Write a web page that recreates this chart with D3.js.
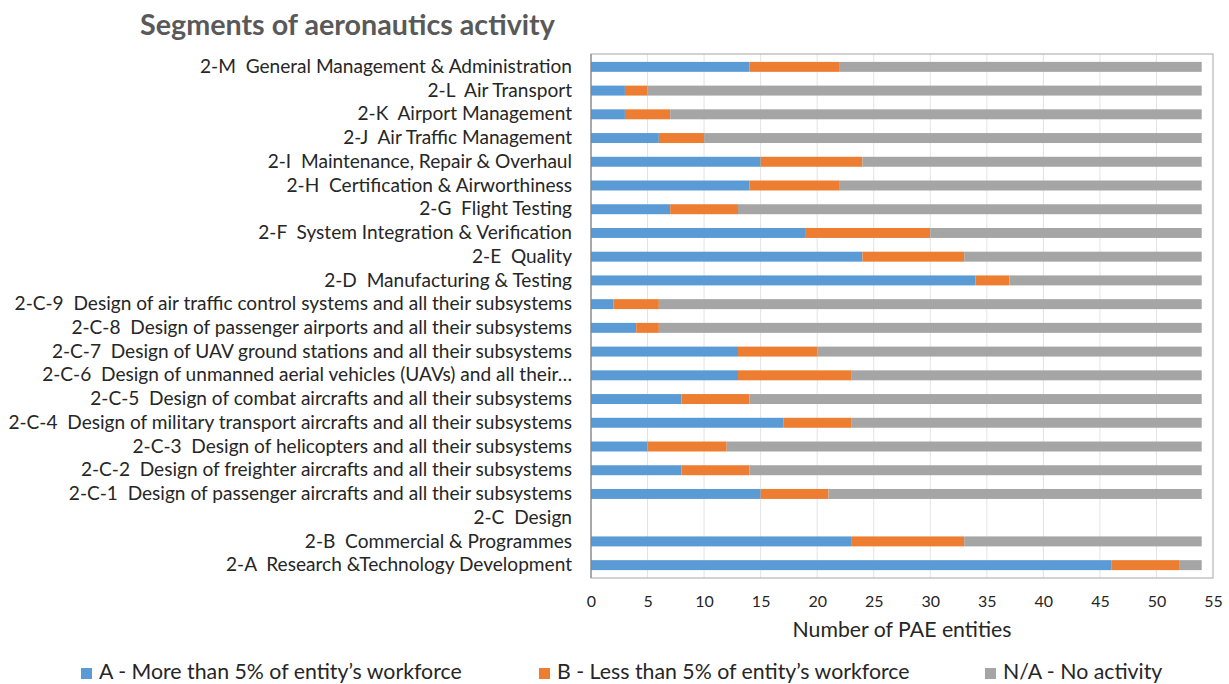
<!DOCTYPE html>
<html>
<head>
<meta charset="utf-8">
<script src="https://cdn.jsdelivr.net/npm/d3@7"></script>
<style>
  body { margin: 0; background: #fff; }
  svg text { font-family: Lato, "Open Sans", sans-serif; }
</style>
</head>
<body>
<div id="chart"></div>
<script>
// categories top to bottom
const categories = [
  "2-M  General Management & Administration",
  "2-L  Air Transport",
  "2-K  Airport Management",
  "2-J  Air Traffic Management",
  "2-I  Maintenance, Repair & Overhaul",
  "2-H  Certification & Airworthiness",
  "2-G  Flight Testing",
  "2-F  System Integration & Verification",
  "2-E  Quality",
  "2-D  Manufacturing & Testing",
  "2-C-9  Design of air traffic control systems and all their subsystems",
  "2-C-8  Design of passenger airports and all their subsystems",
  "2-C-7  Design of UAV ground stations and all their subsystems",
  "2-C-6  Design of unmanned aerial vehicles (UAVs) and all their\u2026",
  "2-C-5  Design of combat aircrafts and all their subsystems",
  "2-C-4  Design of military transport aircrafts and all their subsystems",
  "2-C-3  Design of helicopters and all their subsystems",
  "2-C-2  Design of freighter aircrafts and all their subsystems",
  "2-C-1  Design of passenger aircrafts and all their subsystems",
  "2-C  Design",
  "2-B  Commercial & Programmes",
  "2-A  Research &Technology Development"
];
const seriesA  = [14, 3, 3, 6, 15, 14, 7, 19, 24, 34, 2, 4, 13, 13, 8, 17, 5, 8, 15, 0, 23, 46];
const seriesB  = [ 8, 2, 4, 4,  9,  8, 6, 11,  9,  3, 4, 2,  7, 10, 6,  6, 7, 6,  6, 0, 10,  6];
const seriesNA = [32,49,47,44, 30, 32,41, 24, 21, 17,48,48, 34, 31,40, 31,42,40, 33, 0, 21,  2];
const seriesNames = [
  "A - More than 5% of entity\u2019s workforce",
  "B - Less than 5% of entity\u2019s workforce",
  "N/A - No activity"
];
const xTicks = [0, 5, 10, 15, 20, 25, 30, 35, 40, 45, 50, 55];

const W = 1229, H = 684;
const plot = {left: 591, right: 1213, top: 55, bottom: 577};
const colors = ["#5B9BD5", "#ED7D31", "#A5A5A5"];

// scale a text's font size so it spans the width seen in the reference
function fitWidth(sel, target) {
  const node = sel.node();
  const fs = +sel.attr("font-size");
  const w = node.getComputedTextLength();
  sel.attr("font-size", fs * target / w);
  return fs * target / w;
}

const rows = categories.map((c, i) => ({cat: c, A: seriesA[i], B: seriesB[i], NA: seriesNA[i]}));
const stack = d3.stack().keys(["A", "B", "NA"])(rows);

const svg = d3.select("#chart").append("svg")
  .attr("width", W).attr("height", H);

const x = d3.scaleLinear().domain([0, 55]).range([plot.left, plot.right]);
const y = d3.scaleBand().domain(categories)
  .range([plot.top, plot.bottom]).paddingInner(0.58).paddingOuter(0.29);

// title
const title = svg.append("text")
  .attr("x", 140).attr("y", 35)
  .attr("font-size", 26).attr("font-weight", "bold")
  .attr("fill", "#595959")
  .text("Segments of aeronautics activity");
fitWidth(title, 415);

// gridlines
svg.append("g")
  .selectAll("line")
  .data(xTicks.slice(1, -1))
  .enter().append("line")
  .attr("x1", d => x(d)).attr("x2", d => x(d))
  .attr("y1", plot.top - 1).attr("y2", plot.bottom + 1)
  .attr("stroke", "#E3E3E3");

// frame
svg.append("rect")
  .attr("x", plot.left).attr("y", plot.top - 1)
  .attr("width", plot.right - plot.left).attr("height", plot.bottom - plot.top + 2)
  .attr("fill", "none").attr("stroke", "#A6A6A6");

// bars
svg.append("g").selectAll("g")
  .data(stack)
  .enter().append("g")
  .attr("fill", (d, i) => colors[i])
  .selectAll("rect")
  .data(d => d)
  .enter().append("rect")
  .attr("x", d => x(d[0]))
  .attr("width", d => x(d[1]) - x(d[0]))
  .attr("y", d => y(d.data.cat))
  .attr("height", y.bandwidth());

// left axis line
svg.append("line")
  .attr("x1", plot.left).attr("x2", plot.left)
  .attr("y1", plot.top - 1).attr("y2", plot.bottom + 1)
  .attr("stroke", "#808080");

// category labels
const yAxis = svg.append("g")
  .attr("transform", `translate(${plot.left},0)`)
  .call(d3.axisLeft(y).tickSize(0).tickPadding(19));
yAxis.select(".domain").remove();
yAxis.selectAll("text")
  .attr("font-size", 16).attr("fill", "#262626")
  .style("white-space", "pre");
// size from the longest label (2-C-4), which spans x 8..572 in the reference
const longest = yAxis.selectAll("text").filter(d => d.startsWith("2-C-4"));
const labelSize = fitWidth(longest, 564);
yAxis.selectAll("text").attr("font-size", labelSize);

// x axis labels
const xAxis = svg.append("g")
  .attr("transform", `translate(0,${plot.bottom + 1})`)
  .call(d3.axisBottom(x).tickValues(xTicks).tickSize(0).tickPadding(18));
xAxis.select(".domain").remove();
xAxis.selectAll("text")
  .attr("font-size", 16).attr("fill", "#262626");

const xTitle = svg.append("text")
  .attr("x", (plot.left + plot.right) / 2).attr("y", 637)
  .attr("text-anchor", "middle")
  .attr("font-size", 19).attr("fill", "#262626")
  .text("Number of PAE entities");
fitWidth(xTitle, 219);

// legend
const legendX = [81, 539, 985];
let legendSize = 20;
seriesNames.forEach((name, i) => {
  svg.append("rect")
    .attr("x", legendX[i]).attr("y", 668)
    .attr("width", 11).attr("height", 11)
    .attr("fill", colors[i]);
  const t = svg.append("text")
    .attr("class", "legend-text")
    .attr("x", legendX[i] + 18).attr("y", 679)
    .attr("font-size", legendSize).attr("fill", "#262626")
    .text(name);
  if (i === 0) legendSize = fitWidth(t, 363);
});
svg.selectAll(".legend-text").attr("font-size", legendSize);
</script>
</body>
</html>
